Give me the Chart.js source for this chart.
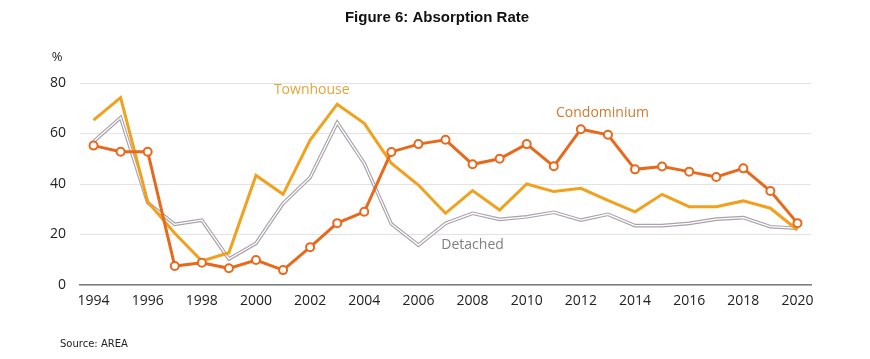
<!DOCTYPE html>
<html>
<head>
<meta charset="utf-8">
<script src="https://cdn.jsdelivr.net/npm/chart.js@4/dist/chart.umd.min.js"></script>
<style>
  html, body { margin: 0; padding: 0; background: #ffffff; }
  #wrap { width: 870px; height: 359px; position: relative; }
</style>
</head>
<body>
<div id="wrap"><canvas id="c" width="870" height="359"></canvas></div>
<script>
const years = ['1994','1995','1996','1997','1998','1999','2000','2001','2002','2003','2004','2005','2006','2007','2008','2009','2010','2011','2012','2013','2014','2015','2016','2017','2018','2019','2020'];
const condominium = [55.2, 52.8, 52.8, 7.5, 8.8, 6.6, 9.9, 5.9, 15.0, 24.5, 29.0, 52.7, 55.8, 57.5, 47.8, 50.0, 55.8, 47.0, 61.7, 59.5, 45.8, 46.9, 44.9, 42.8, 46.2, 37.2, 24.5];
const townhouse = [65.3, 74.2, 33.0, 20.5, 9.5, 12.8, 43.4, 35.9, 57.4, 71.6, 64.0, 48.2, 39.6, 28.4, 37.4, 29.7, 40.0, 37.0, 38.3, 33.5, 29.0, 35.9, 31.0, 31.0, 33.3, 30.4, 21.8];
const detached = [56.8, 66.3, 32.6, 24.0, 25.7, 10.3, 16.5, 32.3, 42.6, 64.3, 48.2, 24.2, 15.8, 24.4, 28.4, 26.0, 27.0, 28.8, 25.7, 28.0, 23.5, 23.5, 24.4, 26.1, 26.7, 23.1, 22.5];
const yTicks = [0, 20, 40, 60, 80];

const textPlugin = {
  id: 'texts',
  afterDraw(chart) {
    const ctx = chart.ctx;
    const xs = chart.scales.x, ys = chart.scales.y;
    ctx.save();
    ctx.textBaseline = 'middle';
    ctx.textAlign = 'center';
    ctx.fillStyle = '#111111';
    ctx.font = "bold 15px 'Liberation Sans Narrow', 'Arial Narrow', 'Liberation Sans', sans-serif";
    ctx.fillText('Figure 6: Absorption Rate', 437, 18);
    ctx.font = "13px 'Open Sans', sans-serif";
    ctx.fillStyle = '#222222';
    ctx.fillText('%', 57, 57);
    ctx.textAlign = 'left';
    ctx.font = "10px 'DejaVu Sans', sans-serif";
    ctx.fillStyle = '#222222';
    ctx.fillText('Source: AREA', 60, 344);
    ctx.textAlign = 'center';
    ctx.font = "14px 'Open Sans', sans-serif";
    const labels = [
      {t: 'Townhouse', x: 8.06, y: 77.2, c: '#e3a53a'},
      {t: 'Condominium', x: 18.8, y: 68.3, c: '#d07a30'},
      {t: 'Detached', x: 14.0, y: 15.8, c: '#7f7f7f'}
    ];
    labels.forEach(l => {
      ctx.fillStyle = l.c;
      ctx.fillText(l.t, xs.getPixelForValue(l.x), ys.getPixelForValue(l.y));
    });
    ctx.restore();
  }
};

new Chart(document.getElementById('c'), {
  type: 'line',
  data: {
    labels: years,
    datasets: [
      {
        label: 'Condominium', data: condominium,
        borderColor: '#e8691c', borderWidth: 3,
        pointRadius: 4, pointBorderWidth: 2,
        pointBackgroundColor: '#ffffff', pointBorderColor: '#e8691c',
        tension: 0
      },
      {
        label: 'Townhouse', data: townhouse,
        borderColor: '#f0a11e', borderWidth: 3,
        pointRadius: 0, tension: 0
      },
      {
        label: 'Detached inner', data: detached,
        borderColor: '#ffffff', borderWidth: 1.3,
        pointRadius: 0, tension: 0
      },
      {
        label: 'Detached', data: detached,
        borderColor: '#aaa2aa', borderWidth: 3.6,
        pointRadius: 0, tension: 0
      }
    ]
  },
  options: {
    responsive: false,
    animation: false,
    layout: { padding: { left: 0, top: 83, right: 59, bottom: 50 } },
    plugins: { legend: { display: false }, tooltip: { enabled: false }, title: { display: false } },
    scales: {
      x: {
        offset: true,
        grid: { display: false, drawTicks: false },
        border: { display: true, color: '#7f7f7f', width: 1.5 },
        ticks: {
          autoSkip: false, maxRotation: 0, padding: 8,
          color: '#222222', font: { family: "'Open Sans', sans-serif", size: 14 },
          callback: function(v, i) { return i % 2 === 0 ? years[i] : ''; }
        },
        afterFit: function(s) { s.height = 24; }
      },
      y: {
        min: 0, max: 80,
        afterBuildTicks: function(s) { s.ticks = yTicks.map(v => ({ value: v })); },
        grid: { color: '#e3e3e3', lineWidth: 1, drawTicks: false },
        border: { display: false },
        ticks: {
          padding: 14, color: '#222222',
          font: { family: "'Open Sans', sans-serif", size: 14 }
        },
        afterFit: function(s) { s.width = 80; }
      }
    }
  },
  plugins: [textPlugin]
});
</script>
</body>
</html>
